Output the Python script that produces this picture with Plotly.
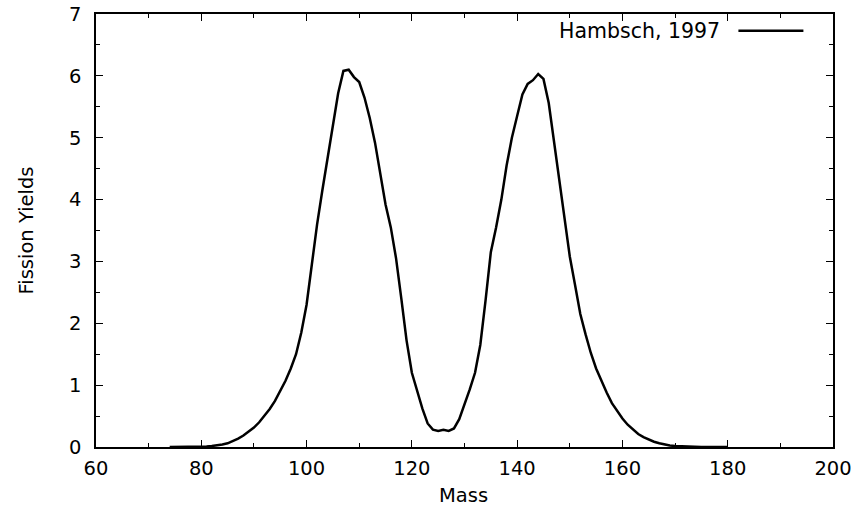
import plotly.graph_objects as go

mass = list(range(74, 181))
yields = [
    0.000, 0.000, 0.000, 0.000, 0.001, 0.003, 0.006, 0.010, 0.016, 0.025,  # 74-83
    0.040, 0.060, 0.095, 0.135, 0.185, 0.245, 0.315, 0.400, 0.500, 0.615,  # 84-93
    0.745, 0.900, 1.070, 1.270, 1.500, 1.850, 2.300, 2.950, 3.600, 4.150,  # 94-103
    4.700, 5.200, 5.720, 6.080, 6.100, 5.980, 5.900, 5.650, 5.320, 4.920,  # 104-113
    4.400, 3.920, 3.550, 3.050, 2.400, 1.720, 1.200, 0.900, 0.620, 0.380,  # 114-123
    0.280, 0.260, 0.280, 0.260, 0.300, 0.450, 0.680, 0.930, 1.200, 1.650,  # 124-133
    2.370, 3.150, 3.550, 4.000, 4.550, 5.000, 5.350, 5.700, 5.870, 5.930,  # 134-143
    6.030, 5.950, 5.560, 4.950, 4.330, 3.740, 3.080, 2.620, 2.150, 1.820,  # 144-153
    1.520, 1.270, 1.060, 0.880, 0.710, 0.580, 0.460, 0.360, 0.280, 0.210,  # 154-163
    0.160, 0.120, 0.085, 0.060, 0.040, 0.025, 0.015, 0.010, 0.006, 0.004,  # 164-173
    0.003, 0.002, 0.001, 0.001, 0.001, 0.000, 0.000,                      # 174-180
]
legend_label = "Hambsch, 1997"
x_title = "Mass"
y_title = "Fission Yields"

FONT = "DejaVu Sans, sans-serif"
FS = 19.5

W, H = 857, 509
L, R, T, B = 95.5, 24.4, 14.3, 62.3
PW, PH = W - L - R, H - T - B

def px_x(p):
    return (p - L) / PW

def px_y(p):
    return 1 - (p - T) / PH

fig = go.Figure()
fig.add_trace(go.Scatter(x=mass, y=yields, mode="lines",
                         line=dict(color="black", width=2.5),
                         name=legend_label, showlegend=False))

axis_common = dict(
    showgrid=False, zeroline=False, showline=True, linecolor="black", linewidth=1.5,
    mirror="ticks", ticks="inside", ticklen=7, tickwidth=1.2, tickcolor="black",
    tickfont=dict(family=FONT, size=FS, color="black"), automargin=False,
)

fig.update_layout(
    width=W, height=H,
    margin=dict(l=L, r=R, t=T, b=B),
    paper_bgcolor="white", plot_bgcolor="white",
    xaxis=dict(range=[60, 200], dtick=20, tick0=60,
               minor=dict(dtick=10, ticklen=4, tickwidth=1.2, tickcolor="black", ticks="inside"),
               ticklabelstandoff=3, **axis_common),
    yaxis=dict(range=[0, 7], dtick=1, tick0=0,
               minor=dict(dtick=0.5, ticklen=4, tickwidth=1.2, tickcolor="black", ticks="inside"),
               ticklabelstandoff=9, **axis_common),
)

# axis titles
fig.add_annotation(xref="paper", yref="paper", x=px_x(463), y=px_y(495), text=x_title,
                   showarrow=False, xanchor="center", yanchor="middle",
                   font=dict(family=FONT, size=FS, color="black"))
fig.add_annotation(xref="paper", yref="paper", x=px_x(25), y=px_y(231), text=y_title,
                   showarrow=False, xanchor="center", yanchor="middle", textangle=-90,
                   font=dict(family=FONT, size=FS, color="black"))

# gnuplot-style key: text right-aligned, line sample to the right
fig.add_annotation(xref="paper", yref="paper", x=px_x(722), y=px_y(31),
                   text=legend_label, showarrow=False, xanchor="right", yanchor="middle",
                   font=dict(family=FONT, size=20.5, color="black"))
fig.add_shape(type="line", xref="paper", yref="paper",
              x0=px_x(738), x1=px_x(803), y0=px_y(31), y1=px_y(31),
              line=dict(color="black", width=2.5))

fig.write_html("out.html")
